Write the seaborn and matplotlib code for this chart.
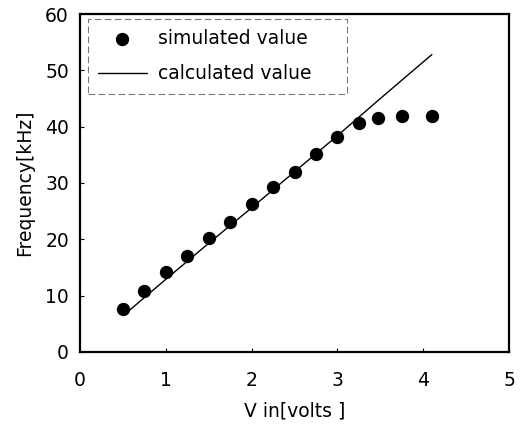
import matplotlib
matplotlib.use("Agg")
import matplotlib.pyplot as plt
import seaborn as sns
import pandas as pd

vin_sim = [0.5, 0.75, 1.0, 1.25, 1.5, 1.75, 2.0, 2.25, 2.5, 2.75, 3.0, 3.25, 3.47, 3.75, 4.1]
freq_sim = [7.7, 10.9, 14.1, 17.0, 20.2, 23.0, 26.2, 29.2, 32.0, 35.2, 38.2, 40.6, 41.5, 41.9, 41.9]
vin_calc = [0.53, 1.0, 1.5, 2.0, 2.5, 3.0, 3.5, 4.1]
freq_calc = [6.8, 12.9, 19.3, 25.6, 32.0, 38.4, 45.0, 52.8]

sns.set_theme(style="ticks")
plt.rcParams['font.family'] = ['DejaVu Sans']
plt.rcParams['text.color'] = 'black'
plt.rcParams['axes.labelcolor'] = 'black'

FS = 13.5
fig = plt.figure(figsize=(5.2, 4.25), dpi=100)
ax = fig.add_axes([0.154, 0.172, 0.825, 0.795])

df_sim = pd.DataFrame({"x": vin_sim, "y": freq_sim})
df_calc = pd.DataFrame({"x": vin_calc, "y": freq_calc})
sns.lineplot(data=df_calc, x="x", y="y", ax=ax, color="black", linewidth=1.0,
             label="calculated value", zorder=2)
sns.scatterplot(data=df_sim, x="x", y="y", ax=ax, color="black", s=92,
                edgecolor="black", linewidth=0, label="simulated value", zorder=3)

ax.set_xlim(0, 5)
ax.set_ylim(0, 60)
ax.set_xticks([0, 1, 2, 3, 4, 5])
ax.set_yticks([0, 10, 20, 30, 40, 50, 60])
ax.tick_params(direction="in", length=3, width=0.8, labelsize=FS, colors="black")
ax.tick_params(axis="x", pad=14)
ax.tick_params(axis="y", pad=8)
for s in ax.spines.values():
    s.set_linewidth(1.6)
    s.set_color("black")
ax.set_xlabel("V in[volts ]", fontsize=FS, labelpad=8, color="black")
ax.set_ylabel("Frequency[kHz]", fontsize=FS, labelpad=8, color="black")

handles, labels = ax.get_legend_handles_labels()
order = [labels.index("simulated value"), labels.index("calculated value")]
leg = ax.legend([handles[i] for i in order], [labels[i] for i in order],
                loc="upper left", bbox_to_anchor=(0.018, 0.70, 0.604, 0.285),
                mode="expand", fontsize=FS,
                frameon=True, fancybox=False, borderpad=0.55, handlelength=2.6,
                labelspacing=0.85, handletextpad=0.6, borderaxespad=0)
for t in leg.get_texts():
    t.set_color("black")
fr = leg.get_frame()
fr.set_edgecolor("#555555")
fr.set_linestyle((0, (6, 3)))
fr.set_linewidth(0.8)

fig.savefig("out.png", dpi=100)
